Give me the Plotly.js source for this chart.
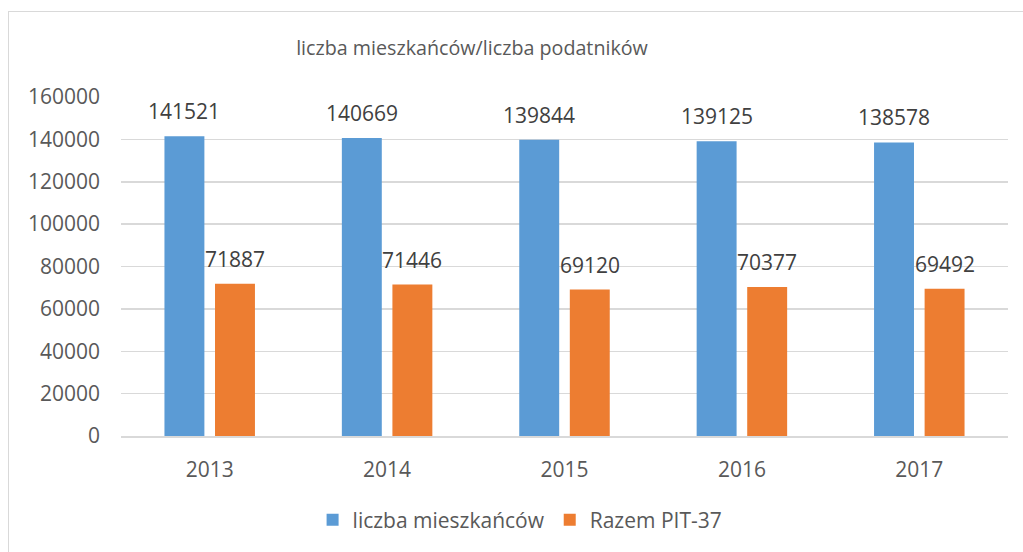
<!DOCTYPE html>
<html>
<head>
<meta charset="utf-8">
<script src="https://cdn.plot.ly/plotly-3.0.1.min.js"></script>
<style>
  html, body { margin: 0; padding: 0; width: 1023px; height: 552px; overflow: hidden; background: #fff; }
  #frame { position: absolute; left: 8px; top: 11px; width: 2000px; height: 2000px; border: 1.5px solid #d9d9d9; }
  #chart { position: absolute; left: 0; top: 0; width: 1023px; height: 552px; }
</style>
</head>
<body>
<div id="frame"></div>
<div id="chart"></div>
<script>
const years = ['2013', '2014', '2015', '2016', '2017'];
const mieszkancy = [141521, 140669, 139844, 139125, 138578];
const pit37 = [71887, 71446, 69120, 70377, 69492];
const seriesNames = ['liczba mieszkańców', 'Razem PIT-37'];
const yTicks = [0, 20000, 40000, 60000, 80000, 100000, 120000, 140000, 160000];
const chartTitle = 'liczba mieszkańców/liczba podatników';

const FONT = 'Open Sans, sans-serif';
const TXT = '#595959';

const traces = [
  { type: 'bar', name: seriesNames[0], x: years, y: mieszkancy, marker: { color: '#5B9BD5' }, hoverinfo: 'skip' },
  { type: 'bar', name: seriesNames[1], x: years, y: pit37, marker: { color: '#ED7D31' }, hoverinfo: 'skip' }
];

const annotations = [];
[[mieszkancy, -25.3], [pit37, 25.3]].forEach(([vals, dx]) => {
  vals.forEach((v, i) => {
    annotations.push({
      x: i, y: v, xref: 'x', yref: 'y', text: String(v),
      showarrow: false, xanchor: 'center', yanchor: 'middle',
      xshift: dx, yshift: 25,
      font: { family: FONT, size: 21, color: '#404040' }
    });
  });
});

const layout = {
  width: 1023, height: 552,
  margin: { l: 121, r: 15, t: 97, b: 116 },
  paper_bgcolor: 'rgba(0,0,0,0)',
  plot_bgcolor: 'rgba(0,0,0,0)',
  font: { family: FONT, color: TXT },
  title: {
    text: chartTitle, x: 0.4614, xanchor: 'center', y: 0.913, yanchor: 'middle',
    font: { family: FONT, size: 19.7, color: TXT }
  },
  barmode: 'group', bargap: 0.43, bargroupgap: 0.21,
  xaxis: {
    type: 'category', categoryorder: 'array', categoryarray: years,
    range: [-0.5, years.length - 0.5], autorange: false,
    showgrid: false, showline: true, linecolor: '#d9d9d9', linewidth: 1.5,
    ticks: '', ticklabelstandoff: 14,
    tickfont: { family: FONT, size: 21, color: TXT }, fixedrange: true
  },
  yaxis: {
    range: [0, 160000], autorange: false, tickvals: yTicks, ticktext: yTicks.map(String),
    showgrid: true, gridcolor: '#d9d9d9', gridwidth: 1.5, zeroline: false,
    showline: false, ticks: '', ticklabelstandoff: 20,
    tickfont: { family: FONT, size: 21, color: TXT }, fixedrange: true
  },
  showlegend: true,
  legend: {
    orientation: 'h', x: 0.216, xanchor: 'left', y: -0.248, yanchor: 'middle',
    font: { family: FONT, size: 21, color: TXT }, itemwidth: 30, traceorder: 'normal'
  },
  annotations: annotations
};

Plotly.newPlot('chart', traces, layout, { displayModeBar: false, staticPlot: true });
</script>
</body>
</html>
